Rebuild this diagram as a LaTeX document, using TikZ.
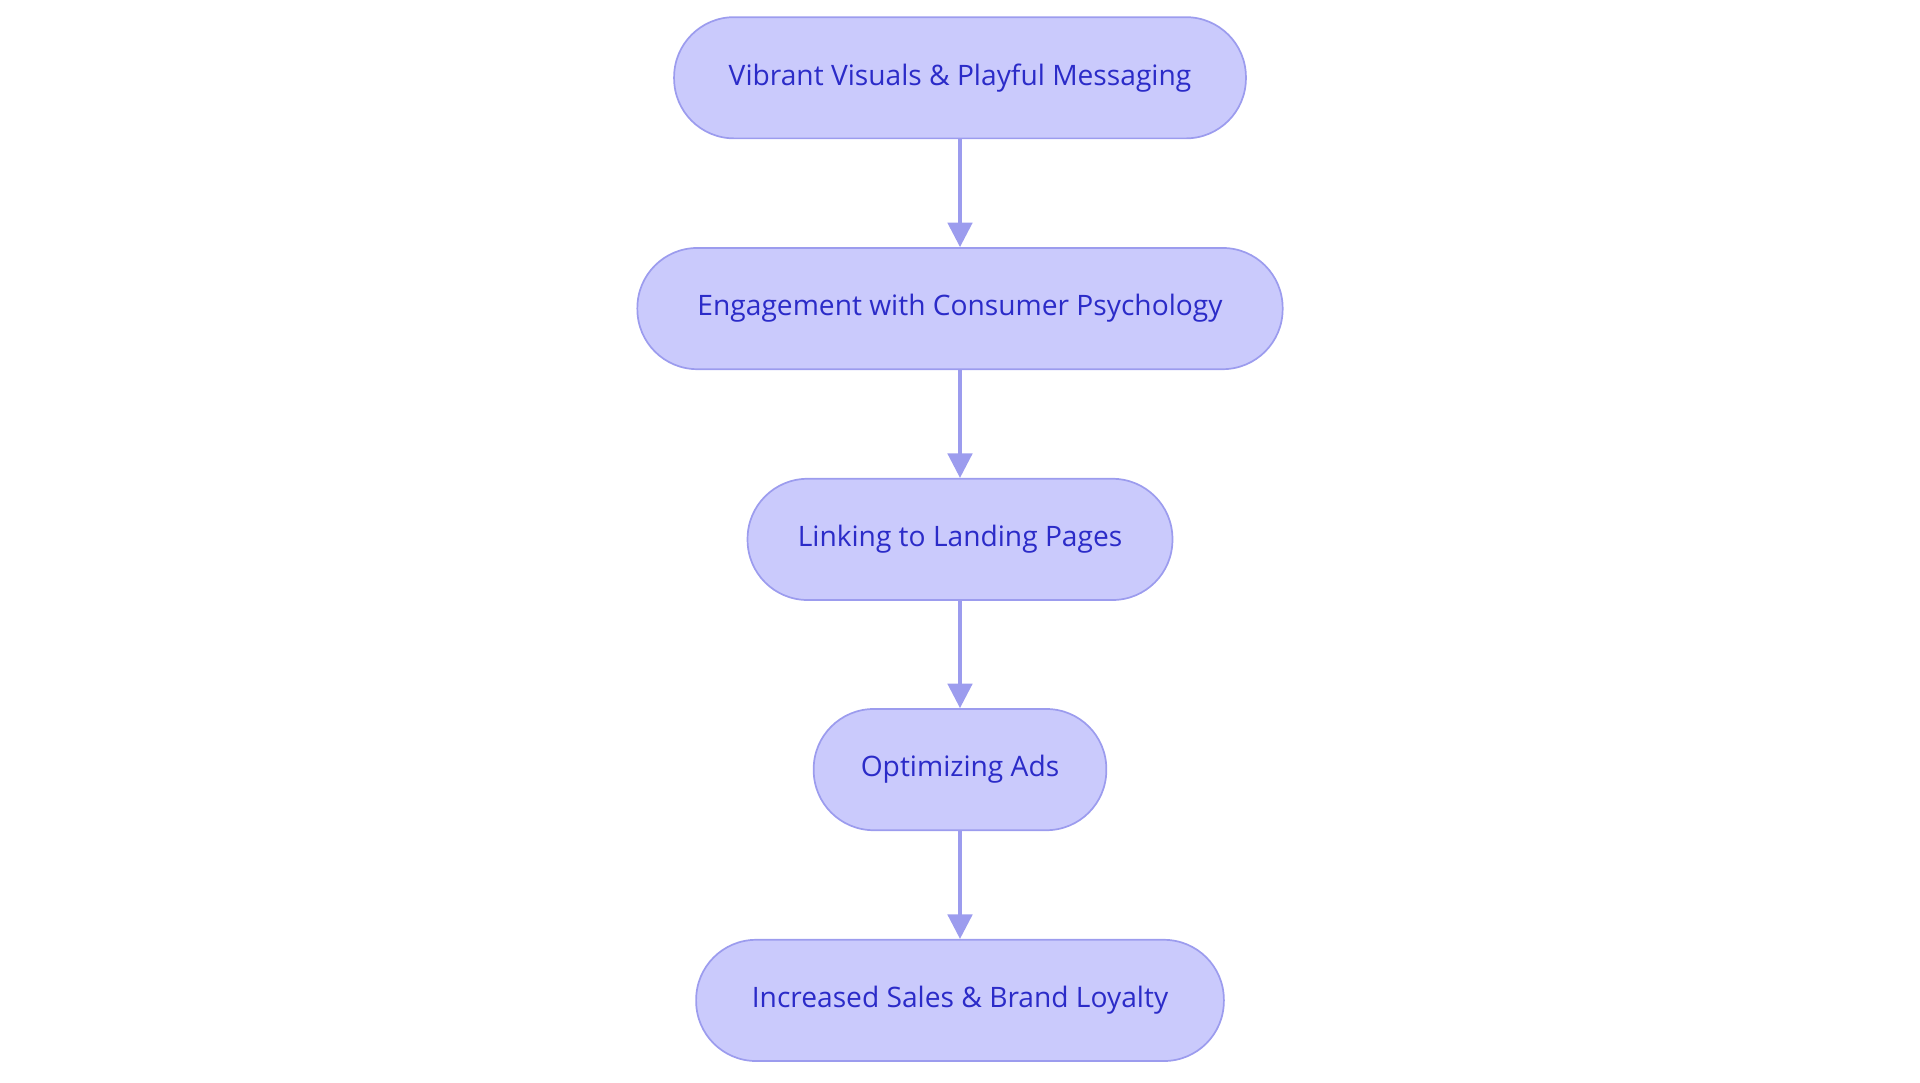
\documentclass[tikz,border=0pt]{standalone}
\usepackage{fontspec}
\setmainfont{Open Sans}
\usetikzlibrary{positioning, arrows.meta}
\definecolor{boxfill}{HTML}{CACAFC}
\definecolor{boxline}{HTML}{9C9CEE}
\definecolor{boxtext}{HTML}{2B2BC8}

\begin{document}
\begin{tikzpicture}[x=0.5pt,y=-0.5pt,
     stage/.style={draw=boxline, fill=boxfill, text=boxtext, rounded corners=24.5pt,
       minimum height=49.5pt, inner sep=0pt, font=\fontsize{11.5}{13}\selectfont, line width=0.7pt},
     flow/.style={draw=boxline, line width=1.4pt, -{Triangle[length=10pt,width=10pt]}}]

  \useasboundingbox (0,0) rectangle (1568,884);

  \node[stage, minimum width=233.5pt] (visuals) at (784,63.5) {Vibrant Visuals \& Playful Messaging};
  \node[stage, minimum width=263.5pt] (engage) at (784,252) {Engagement with Consumer Psychology};
  \node[stage, minimum width=173.5pt] (landing) at (784,440.5) {Linking to Landing Pages};
  \node[stage, minimum width=119.5pt] (ads) at (784,628.5) {Optimizing Ads};
  \node[stage, minimum width=215.5pt] (sales) at (784,817) {Increased Sales \& Brand Loyalty};

  \draw[flow] (visuals) -- (engage);
  \draw[flow] (engage) -- (landing);
  \draw[flow] (landing) -- (ads);
  \draw[flow] (ads) -- (sales);
\end{tikzpicture}
\end{document}
